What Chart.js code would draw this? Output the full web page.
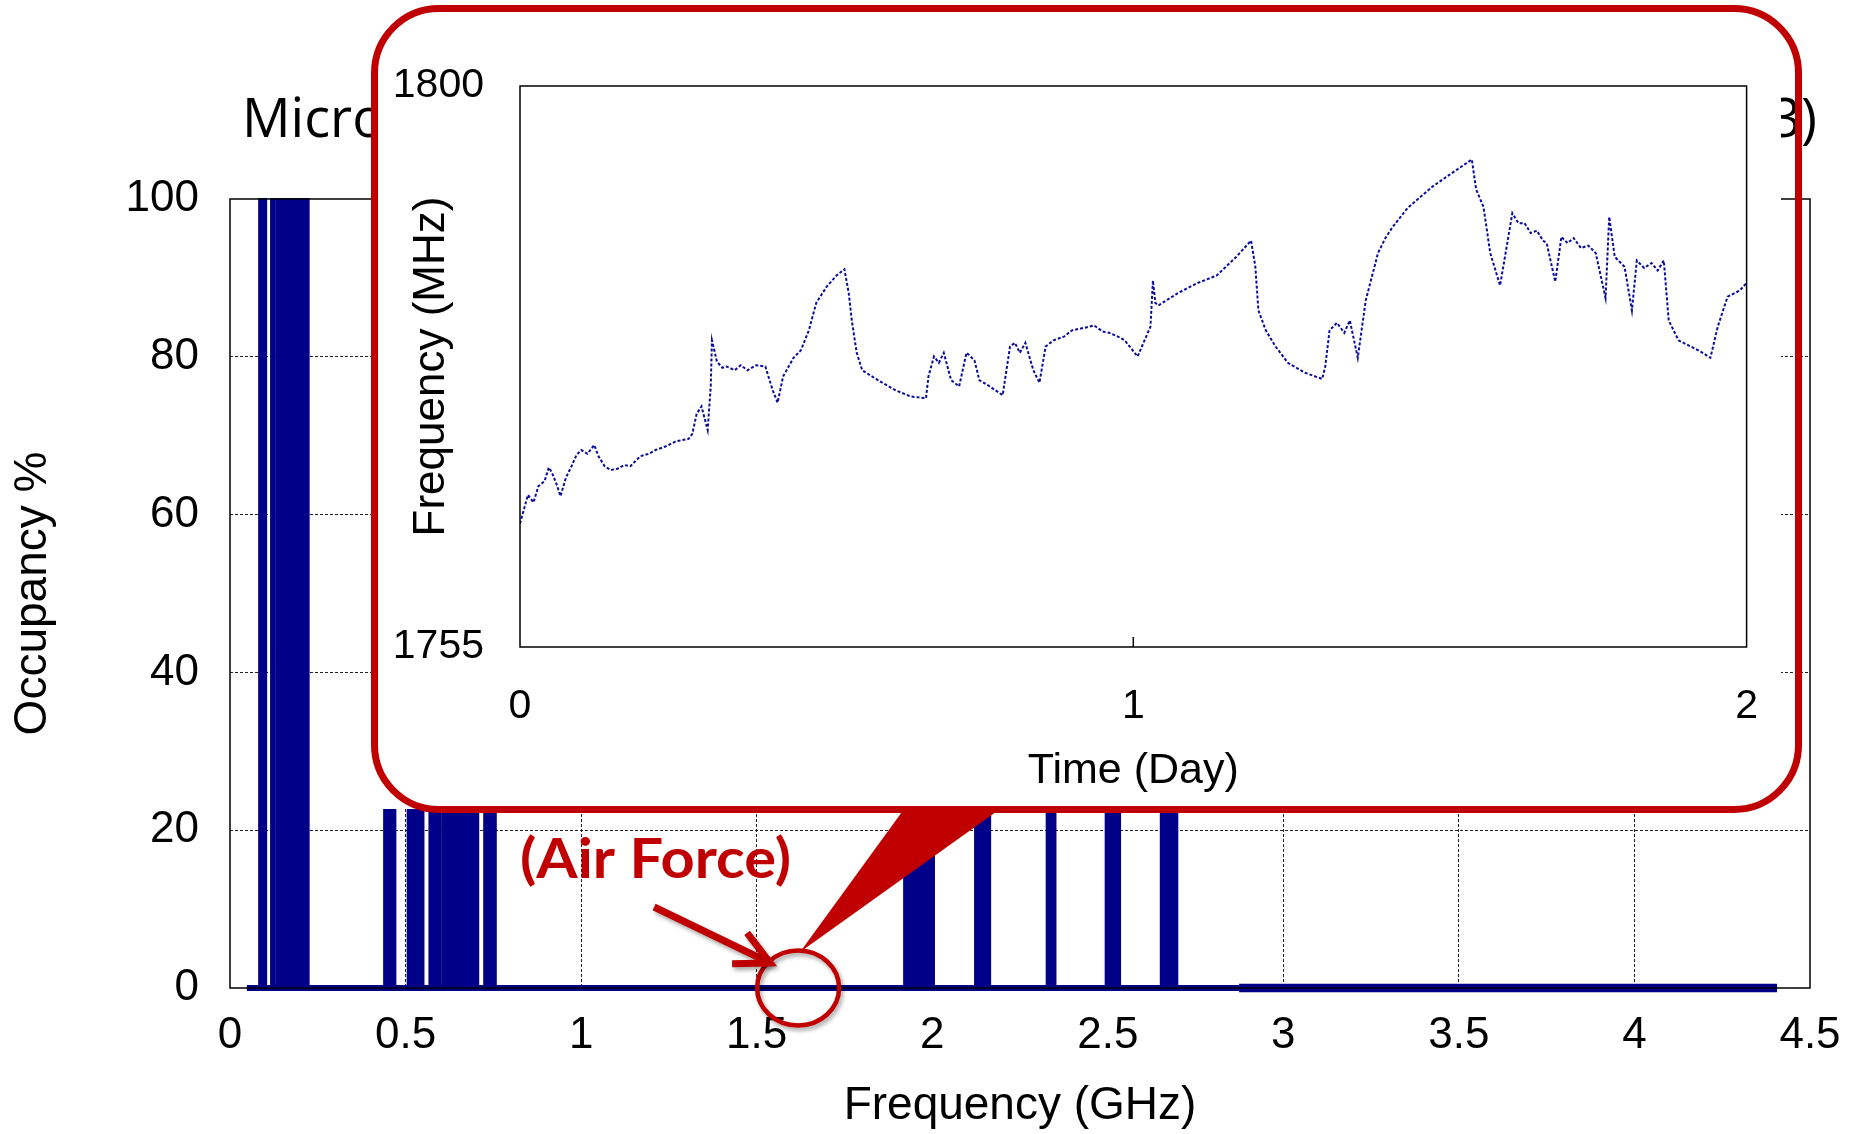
<!DOCTYPE html>
<html>
<head>
<meta charset="utf-8">
<script src="https://cdn.jsdelivr.net/npm/chart.js@4/dist/chart.umd.min.js"></script>
<style>
  html, body { margin: 0; padding: 0; background: #ffffff; }
  #wrap { position: relative; width: 1866px; height: 1134px; overflow: hidden; background: #fff; }
  #main { position: absolute; left: 0; top: 0; }
  #cover { position: absolute; left: 371px; top: 5px; width: 1410px; height: 804px; background: #ffffff; }
  #callout { position: absolute; left: 371px; top: 5px; width: 1431px; height: 808px; box-sizing: border-box;
             border: 7.5px solid #C00000; border-radius: 68px; background: transparent; }
  #inset { position: absolute; left: 380px; top: 14px; }
</style>
</head>
<body>
<div id="wrap">
  <canvas id="main" width="1866" height="1134"></canvas>
  <div id="cover"></div>
  <div id="callout"></div>
  <canvas id="inset" width="1413" height="790"></canvas>
</div>
<script>
// ---------------- Main chart data ----------------
const chartTitle = 'Microsoft Spectrum Observatory (Seattle, 2013)';
const freqTicksGHz = [0, 0.5, 1, 1.5, 2, 2.5, 3, 3.5, 4, 4.5];
const occupancyTicks = [0, 20, 40, 60, 80, 100];
const bandStartGHz = [0.083, 0.117, 0.133, 0.439, 0.506, 0.568, 0.606, 0.724, 1.920, 2.122, 2.326, 2.494, 2.651];
const bandEndGHz   = [0.103, 0.127, 0.224, 0.471, 0.551, 0.600, 0.707, 0.757, 2.005, 2.165, 2.351, 2.535, 2.698];
const occupancyPct = [100,   100,   100,   42,    55,    38,    70,    48,    60,    35,    30,    28,    33];
const sweepLowGHz  = [0.048, 2.874];
const sweepHighGHz = [2.874, 4.406];
const airForceMarkGHz = 1.618;
const annotationText = '(Air Force)';

// ---------------- Inset data ----------------
const dayTicks = [0, 1, 2];
const mhzTicks = [1755, 1800];
const timeDay = [
  0.000, 0.013, 0.022, 0.030, 0.040, 0.047, 0.052, 0.060, 0.066, 0.075, 0.084, 0.092, 0.100, 0.110, 0.121, 0.128,
  0.138, 0.148, 0.159, 0.170, 0.180, 0.196, 0.210, 0.221, 0.238, 0.254, 0.275, 0.281, 0.288, 0.296, 0.306, 0.311,
  0.313, 0.321, 0.330, 0.337, 0.350, 0.360, 0.371, 0.385, 0.400, 0.412, 0.420, 0.429, 0.446, 0.458, 0.471, 0.483,
  0.500, 0.516, 0.529, 0.536, 0.541, 0.549, 0.558, 0.587, 0.612, 0.637, 0.662, 0.666, 0.675, 0.683, 0.691, 0.703,
  0.716, 0.728, 0.741, 0.749, 0.766, 0.787, 0.799, 0.807, 0.815, 0.824, 0.837, 0.847, 0.857, 0.870, 0.887, 0.900,
  0.920, 0.936, 0.950, 0.961, 0.975, 0.986, 1.007, 1.028, 1.032, 1.036, 1.041, 1.073, 1.105, 1.136, 1.168, 1.192,
  1.199, 1.204, 1.216, 1.232, 1.252, 1.280, 1.308, 1.313, 1.320, 1.332, 1.344, 1.353, 1.366, 1.379, 1.399, 1.411,
  1.423, 1.447, 1.487, 1.519, 1.552, 1.559, 1.571, 1.582, 1.598, 1.606, 1.618, 1.628, 1.638, 1.648, 1.658, 1.668,
  1.674, 1.688, 1.698, 1.708, 1.718, 1.730, 1.742, 1.754, 1.770, 1.776, 1.785, 1.793, 1.801, 1.813, 1.821, 1.833,
  1.845, 1.855, 1.865, 1.873, 1.889, 1.909, 1.925, 1.941, 1.953, 1.969, 1.989, 2.000
];
const freqMHz = [
  1764.9, 1767.2, 1766.6, 1767.9, 1768.3, 1769.4, 1769.0, 1768.0, 1767.1, 1768.6, 1769.5, 1770.4, 1770.8, 1770.5, 1771.2, 1770.3,
  1769.5, 1769.2, 1769.3, 1769.6, 1769.5, 1770.3, 1770.5, 1770.8, 1771.1, 1771.5, 1771.7, 1772.1, 1773.7, 1774.3, 1772.4, 1775.9,
  1779.6, 1777.9, 1777.4, 1777.5, 1777.2, 1777.6, 1777.2, 1777.6, 1777.5, 1775.6, 1774.6, 1776.7, 1778.2, 1778.8, 1780.4, 1782.6,
  1783.9, 1784.8, 1785.3, 1783.4, 1781.2, 1778.6, 1777.2, 1776.3, 1775.6, 1775.1, 1774.95, 1776.7, 1778.3, 1777.8, 1778.6, 1776.4,
  1775.9, 1778.6, 1778.0, 1776.4, 1775.9, 1775.2, 1779.1, 1779.4, 1778.6, 1779.4, 1777.2, 1776.2, 1779.1, 1779.6, 1779.9, 1780.4,
  1780.6, 1780.8, 1780.3, 1780.2, 1779.9, 1779.6, 1778.3, 1780.7, 1784.4, 1782.6, 1782.4, 1783.4, 1784.2, 1784.8, 1786.3, 1787.6,
  1785.5, 1782.0, 1780.4, 1779.1, 1777.8, 1777.0, 1776.5, 1777.5, 1780.4, 1781.0, 1780.2, 1781.2, 1778.2, 1782.8, 1786.6, 1787.8,
  1788.7, 1790.2, 1791.9, 1793.0, 1794.1, 1791.7, 1790.3, 1786.6, 1784.0, 1786.3, 1789.8, 1789.0, 1789.0, 1788.2, 1788.4, 1787.6,
  1787.4, 1784.3, 1787.9, 1787.4, 1787.8, 1787.0, 1787.2, 1786.6, 1783.0, 1789.5, 1786.3, 1785.9, 1785.5, 1782.0, 1786.0, 1785.4,
  1785.8, 1785.2, 1786.0, 1781.2, 1779.6, 1779.1, 1778.7, 1778.2, 1780.7, 1783.1, 1783.6, 1784.2
];

// ---------------- Styles ----------------
const NAVY = '#000088';
const RED = '#C00000';
const SANS = "'Liberation Sans', Arial, Helvetica, sans-serif";

function fitText(ctx, text, x, y, width, font, color, spreadWords) {
  ctx.save();
  ctx.font = font;
  ctx.fillStyle = color;
  ctx.textAlign = 'left';
  ctx.textBaseline = 'alphabetic';
  const w = ctx.measureText(text).width;
  const spaces = (text.match(/ /g) || []).length;
  if (spreadWords && w < width && spaces > 0 && 'wordSpacing' in ctx) {
    ctx.wordSpacing = ((width - w) / spaces) + 'px';
    ctx.fillText(text, x, y);
  } else {
    ctx.translate(x, y);
    ctx.scale(width / w, 1);
    ctx.fillText(text, 0, 0);
  }
  ctx.restore();
}

// Build bar outlines (band edges -> occupancy) for an area fill
const barPoints = [];
bandStartGHz.forEach((s, i) => {
  const e = bandEndGHz[i], v = occupancyPct[i];
  barPoints.push({x: s, y: 0}, {x: s, y: v}, {x: e, y: v}, {x: e, y: 0});
});

const frameAndNotes = {
  id: 'frameAndNotes',
  afterDatasetsDraw(chart) {
    const {ctx, chartArea: a} = chart;
    ctx.save();
    ctx.strokeStyle = '#000';
    ctx.lineWidth = 1.5;
    ctx.setLineDash([]);
    ctx.strokeRect(a.left, a.top, a.right - a.left, a.bottom - a.top);
    ctx.restore();
  },
  afterDraw(chart) {
    const {ctx} = chart;
    const xs = chart.scales.x, ys = chart.scales.y;
    // Title (mostly hidden behind the inset)
    fitText(ctx, chartTitle, 242, 137, 1575, "54px 'Open Sans', sans-serif", '#000', true);

    const cx = xs.getPixelForValue(airForceMarkGHz);
    const cy = ys.getPixelForValue(0);

    // Callout wedge from the inset to the marked spot
    ctx.save();
    ctx.fillStyle = RED;
    ctx.beginPath();
    ctx.moveTo(cx + 2, cy - 36);
    ctx.lineTo(cx + 106, 809);
    ctx.lineTo(cx + 202, 809);
    ctx.closePath();
    ctx.fill();
    ctx.restore();

    // Circle marker
    ctx.save();
    ctx.shadowColor = 'rgba(0,0,0,0.35)';
    ctx.shadowBlur = 4;
    ctx.shadowOffsetX = 2;
    ctx.shadowOffsetY = 3;
    ctx.strokeStyle = RED;
    ctx.lineWidth = 4.5;
    ctx.beginPath();
    ctx.ellipse(cx, cy, 41, 37.5, 0, 0, Math.PI * 2);
    ctx.stroke();
    ctx.restore();

    // Arrow
    const tipX = cx - 28, tipY = cy - 25;
    const tailX = cx - 144, tailY = cy - 81;
    const ang = Math.atan2(tipY - tailY, tipX - tailX);
    ctx.save();
    ctx.shadowColor = 'rgba(0,0,0,0.35)';
    ctx.shadowBlur = 4;
    ctx.shadowOffsetX = 2;
    ctx.shadowOffsetY = 3;
    ctx.strokeStyle = RED;
    ctx.lineWidth = 7;
    ctx.lineCap = 'butt';
    ctx.lineJoin = 'miter';
    ctx.beginPath();
    ctx.moveTo(tailX, tailY);
    ctx.lineTo(tipX - 4 * Math.cos(ang), tipY - 4 * Math.sin(ang));
    ctx.stroke();
    const hl = 38, ha = 0.47;
    ctx.beginPath();
    ctx.moveTo(tipX - hl * Math.cos(ang - ha), tipY - hl * Math.sin(ang - ha));
    ctx.lineTo(tipX, tipY);
    ctx.lineTo(tipX - hl * Math.cos(ang + ha), tipY - hl * Math.sin(ang + ha));
    ctx.stroke();
    ctx.restore();

    // Annotation label
    fitText(ctx, annotationText, 520, 878, 271, "bold 56px Lato, sans-serif", RED, false);
  }
};

new Chart(document.getElementById('main'), {
  type: 'line',
  data: {
    datasets: [
      { data: barPoints, borderColor: NAVY, backgroundColor: NAVY, borderWidth: 2, fill: 'origin',
        pointRadius: 0, tension: 0, clip: false, order: 1 },
      { data: sweepLowGHz.map(f => ({x: f, y: 0})), borderColor: NAVY, borderWidth: 6, fill: false,
        pointRadius: 0, clip: false, order: 2 },
      { data: sweepHighGHz.map(f => ({x: f, y: 0})), borderColor: NAVY, borderWidth: 8.5, fill: false,
        pointRadius: 0, clip: false, order: 3 }
    ]
  },
  options: {
    responsive: false, animation: false, devicePixelRatio: 1,
    layout: { padding: { left: 0, top: 199, right: 56, bottom: 0 } },
    plugins: { legend: { display: false }, tooltip: { enabled: false }, title: { display: false } },
    scales: {
      x: {
        type: 'linear', min: 0, max: 4.5,
        afterBuildTicks: s => { s.ticks = freqTicksGHz.map(v => ({value: v})); },
        afterFit: s => { s.height = 146; },
        ticks: { padding: 21, color: '#000', font: { family: SANS, size: 44 }, maxRotation: 0, autoSkip: false,
                 callback: v => String(v) },
        grid: { drawTicks: false, lineWidth: 1,
                color: c => (c.tick && (c.tick.value === 0 || c.tick.value === 4.5)) ? 'rgba(0,0,0,0)' : '#222' },
        border: { display: false, dash: [3, 2] },
        title: { display: true, text: 'Frequency (GHz)', color: '#000', font: { family: SANS, size: 46 },
                 padding: { top: 0, bottom: 0 } }
      },
      y: {
        type: 'linear', min: 0, max: 100,
        afterBuildTicks: s => { s.ticks = occupancyTicks.map(v => ({value: v})); },
        afterFit: s => { s.width = 230; },
        ticks: { padding: 31, color: '#000', font: { family: SANS, size: 44 }, callback: v => String(v) },
        grid: { drawTicks: false, lineWidth: 1,
                color: c => (c.tick && (c.tick.value === 0 || c.tick.value === 100)) ? 'rgba(0,0,0,0)' : '#222' },
        border: { display: false, dash: [3, 2] },
        title: { display: true, text: 'Occupancy %', color: '#000', font: { family: SANS, size: 46 },
                 padding: { top: 6, bottom: 0 } }
      }
    }
  },
  plugins: [frameAndNotes]
});

// ---------------- Inset chart ----------------
const insetFrame = {
  id: 'insetFrame',
  afterDraw(chart) {
    const {ctx, chartArea: a} = chart;
    ctx.save();
    ctx.strokeStyle = '#000';
    ctx.lineWidth = 1.5;
    ctx.strokeRect(a.left, a.top, a.right - a.left, a.bottom - a.top);
    const xp = chart.scales.x.getPixelForValue(dayTicks[1]);
    ctx.beginPath();
    ctx.moveTo(xp, a.bottom);
    ctx.lineTo(xp, a.bottom - 10);
    ctx.stroke();
    ctx.restore();
  }
};

new Chart(document.getElementById('inset'), {
  type: 'line',
  data: {
    datasets: [{
      data: timeDay.map((t, i) => ({x: t, y: freqMHz[i]})),
      borderColor: '#0c0c98', borderWidth: 2, pointRadius: 0, tension: 0, fill: false,
      borderDash: [3, 2]
    }]
  },
  options: {
    responsive: false, animation: false, devicePixelRatio: 1,
    layout: { padding: { left: 0, top: 72, right: 46, bottom: 0 } },
    plugins: { legend: { display: false }, tooltip: { enabled: false } },
    scales: {
      x: {
        type: 'linear', min: 0, max: 2,
        afterBuildTicks: s => { s.ticks = dayTicks.map(v => ({value: v})); },
        afterFit: s => { s.height = 157; },
        ticks: { padding: 35, color: '#000', font: { family: SANS, size: 41 }, maxRotation: 0, autoSkip: false,
                 callback: v => String(v) },
        grid: { display: false, drawTicks: false },
        border: { display: false },
        title: { display: true, text: 'Time (Day)', color: '#000', font: { family: SANS, size: 43 },
                 padding: { top: 0, bottom: 7 } }
      },
      y: {
        type: 'linear', min: 1755, max: 1800,
        afterBuildTicks: s => { s.ticks = mhzTicks.map(v => ({value: v})); },
        afterFit: s => { s.width = 140; },
        ticks: { padding: 36, color: '#000', font: { family: SANS, size: 41 }, callback: v => String(v) },
        grid: { display: false, drawTicks: false },
        border: { display: false },
        title: { display: true, text: 'Frequency (MHz)', color: '#000', font: { family: SANS, size: 44 },
                 padding: { top: 25, bottom: 0 } }
      }
    }
  },
  plugins: [insetFrame]
});
</script>
</body>
</html>
